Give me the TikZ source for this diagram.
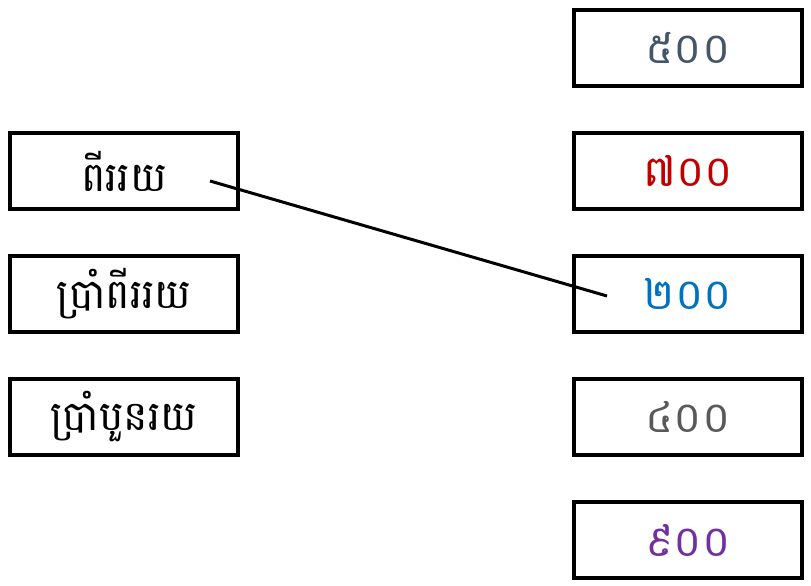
\documentclass[tikz,border=0pt]{standalone}
\usepackage{fontspec}
\newfontfamily\khmerfont[Script=Khmer]{Battambang}
\usetikzlibrary{calc}
\definecolor{num5}{HTML}{44546A}
\definecolor{num7}{HTML}{C00000}
\definecolor{num2}{HTML}{0070C0}
\definecolor{num4}{HTML}{595959}
\definecolor{num9}{HTML}{7030A0}
\tikzset{
  box/.style={draw, line width=4pt, minimum width=228pt, minimum height=76pt,
    inner sep=0pt, font=\khmerfont\fontsize{41}{48}\selectfont},
  numbox/.style={box, font=\khmerfont\fontsize{43}{48}\selectfont}
}
\begin{document}
\begin{tikzpicture}[x=1pt, y=-1pt]
    \useasboundingbox (0,0) rectangle (811,586);
    \node [box] (w2) at (124,171) {ពីររយ};
    \node [box] (w7) at (124,294) {ប្រាំពីររយ};
    \node [box] (w9) at (124,417) {ប្រាំបួនរយ};
    \node [numbox, text=num5] (n5) at (688,48) {៥០០};
    \node [numbox, text=num7] (n7) at (688,171) {៧០០};
    \node [numbox, text=num2] (n2) at (688,294) {២០០};
    \node [numbox, text=num4] (n4) at (688,417) {៤០០};
    \node [numbox, text=num9] (n9) at (688,540) {៩០០};
    \coordinate (s) at ($(w2.east)+(-30,10)$);
    \coordinate (e) at ($(n2.west)+(35,2)$);
    \draw [line width=3pt] (s) -- (e);
\end{tikzpicture}
\end{document}
